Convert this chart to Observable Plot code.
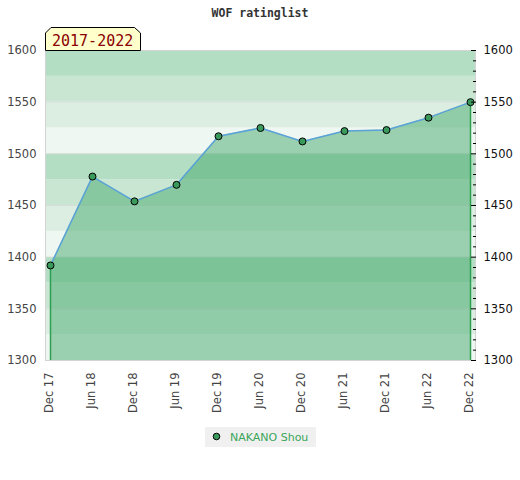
<!DOCTYPE html>
<html><head><meta charset="utf-8">
<script src="https://cdn.jsdelivr.net/npm/d3@7"></script>
<script src="https://cdn.jsdelivr.net/npm/@observablehq/plot@0.6"></script>
<style>
body{margin:0;background:#fff;}
#wrap{position:relative;width:520px;height:480px;}
#wrap svg.over{position:absolute;left:0;top:0;pointer-events:none;}
</style></head>
<body><div id="wrap"></div>
<script>
const labels = ["Dec 17","Jun 18","Dec 18","Jun 19","Dec 19","Jun 20","Dec 20","Jun 21","Dec 21","Jun 22","Dec 22"];
const ratings = [1392,1478,1454,1470,1517,1525,1512,1522,1523,1535,1550];
const majorTicks = [1300,1350,1400,1450,1500,1550,1600];
const minorTicks = [1310,1320,1330,1340,1360,1370,1380,1390,1410,1420,1430,1440,1460,1470,1480,1490,1510,1520,1530,1540,1560,1570,1580,1590];
const bandStarts = [1300,1325,1350,1375,1400,1425,1450,1475,1500,1525,1550,1575];
const bandColors = ["#eef7f1","#dbeee1","#c9e6d3","#b3dec3"];
const playerName = "NAKANO Shou";
const titleText = "WOF ratinglist";
const periodText = "2017-2022";

const data = labels.map((l,i)=>({label:l, rating:ratings[i]}));
const bands = bandStarts.map(b=>({lo:b, hi:b+25, color:bandColors[(b%100)/25]}));

const chart = Plot.plot({
  width:520, height:480,
  marginLeft:45, marginRight:45, marginTop:50, marginBottom:120,
  style:{fontFamily:"DejaVu Sans, sans-serif", fontSize:"11px", background:"transparent", overflow:"visible"},
  x:{type:"point", domain:labels, padding:0.075, label:null},
  y:{domain:[1300,1600], label:null},
  color:{type:"identity"},
  marks:[
    Plot.rect(bands, {y1:"lo", y2:"hi", fill:"color"}),
    Plot.ruleY(majorTicks.slice(1,-1), {stroke:"#d8d8d8", strokeOpacity:0.8}),
    Plot.areaY(data, {x:"label", y1:1300, y2:"rating", fill:"#45aa6d", fillOpacity:0.5}),
    Plot.ruleX([data[0], data[data.length-1]], {x:"label", y1:1300, y2:"rating", stroke:"#2e9e50", strokeWidth:1.5}),
    Plot.line(data, {x:"label", y:"rating", stroke:"#5aa2d8", strokeWidth:1.5}),
    Plot.dot(data, {x:"label", y:"rating", r:3.5, fill:"#3a9a5c", stroke:"#000", strokeWidth:1}),
    Plot.frame({stroke:"#d4d4d4"}),
    Plot.axisY({anchor:"left", ticks:majorTicks, tickFormat:"d", tickSize:0, tickPadding:9, fill:"#444", fontSize:11.5, label:null}),
    Plot.axisY({anchor:"right", ticks:majorTicks, tickFormat:"d", tickSize:0, tickPadding:8, fill:"#111", fontSize:11.5, label:null}),
    Plot.axisY({anchor:"right", ticks:minorTicks, tickSize:3, dx:-3, tickFormat:()=>"", label:null, stroke:"#000"}),
    Plot.axisY({anchor:"right", ticks:majorTicks, tickSize:5, dx:-5, tickFormat:()=>"", label:null, stroke:"#000"}),
    Plot.axisX({anchor:"bottom", tickRotate:-90, tickSize:0, tickPadding:12, dx:-1.5, fill:"#444", fontSize:11.5, label:null})
  ]
});
const wrap = document.getElementById("wrap");
wrap.appendChild(chart);

const ns = "http://www.w3.org/2000/svg";
const over = document.createElementNS(ns,"svg");
over.setAttribute("class","over");
over.setAttribute("width",520); over.setAttribute("height",480);
over.innerHTML = `
<text x="260" y="17" text-anchor="middle" font-family="DejaVu Sans Mono, monospace" font-weight="bold" font-size="11.5" fill="#333"></text>
<polygon points="45.5,33 51,27.5 134.5,27.5 140.5,33 140.5,50.5 45.5,50.5" fill="#ffffcc" stroke="#000" stroke-width="1"/>
<text x="52" y="46" font-family="DejaVu Sans Mono, monospace" font-size="15" fill="#8b0000"></text>
<rect x="205" y="427" width="111" height="20" fill="#f0f0f0"/>
<circle cx="216.5" cy="436.5" r="3.3" fill="#3a9a5c" stroke="#000" stroke-width="1"/>
<text x="230" y="440.5" font-family="DejaVu Sans, sans-serif" font-size="11" fill="#3aa65a"></text>`;
const texts = over.querySelectorAll("text");
texts[0].textContent = titleText;
texts[1].textContent = periodText;
texts[2].textContent = playerName;
wrap.appendChild(over);
</script>
</body></html>
